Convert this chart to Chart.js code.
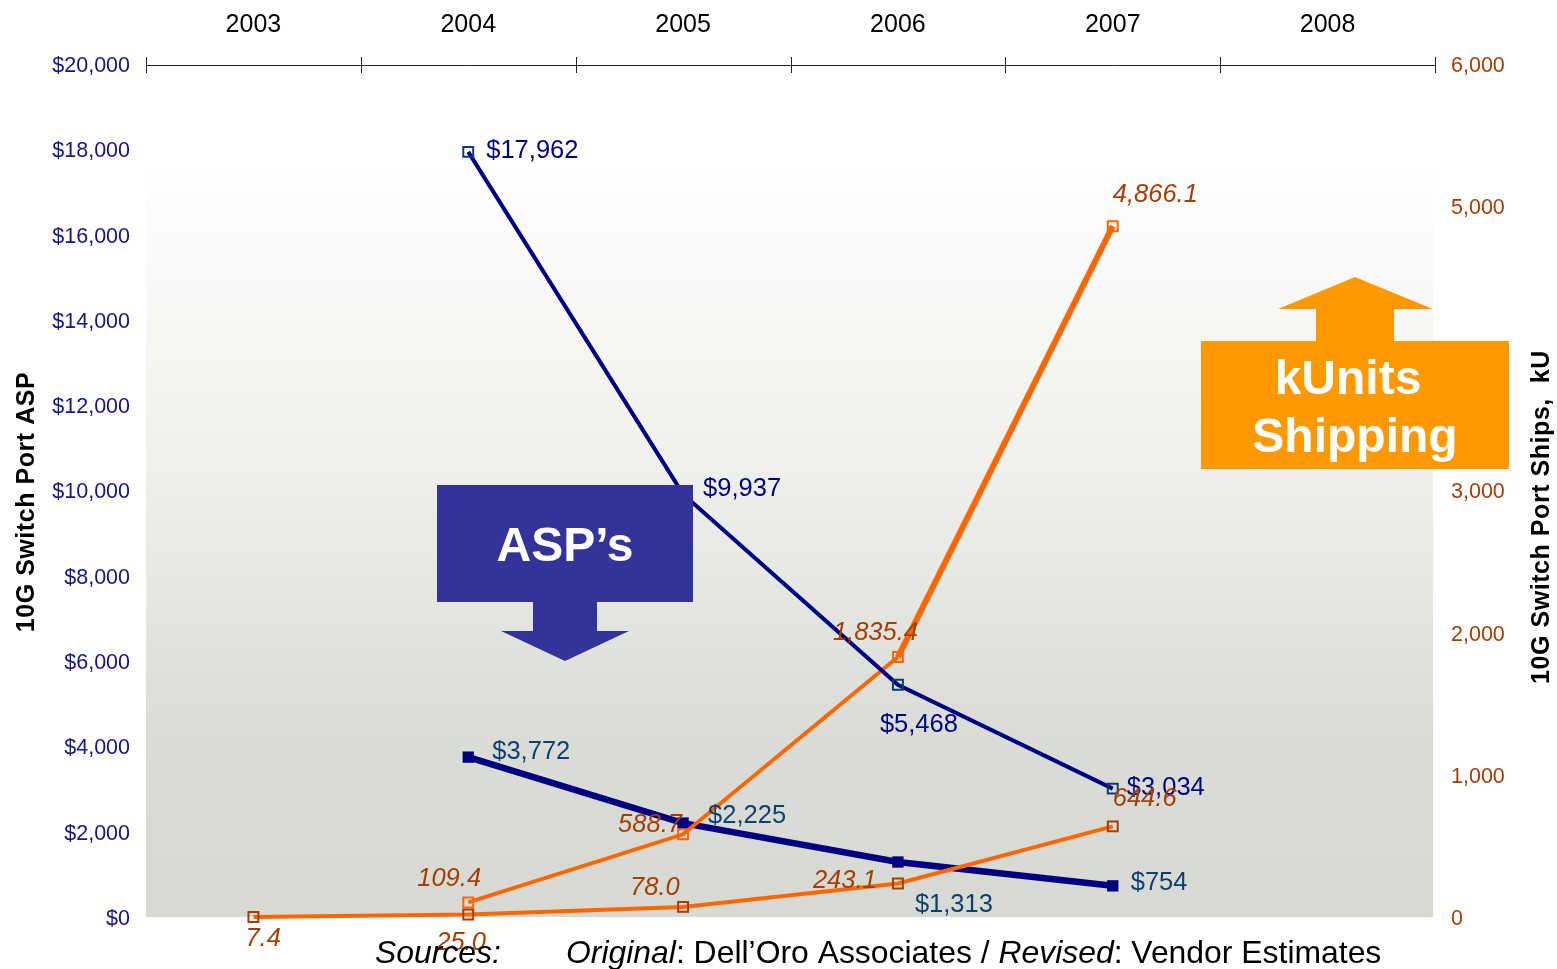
<!DOCTYPE html>
<html>
<head>
<meta charset="utf-8">
<title>10G Switch Port ASP and Ships</title>
<script src="https://cdn.jsdelivr.net/npm/chart.js@4"></script>
<style>
html,body{margin:0;padding:0;background:#fff;overflow:hidden}
#wrap{position:absolute;left:0;top:0;width:1557px;height:969px}
</style>
</head>
<body>
<div id="wrap"><canvas id="mainChart" width="1557" height="969"></canvas></div>
<script>
const years=["2003","2004","2005","2006","2007","2008"]

const aspOriginal=[null,17962,9937,5468,3034,null]
const aspRevised=[null,3772,2225,1313,754,null]
const shipsOriginal=[null,109.4,588.7,1835.4,4866.1,null]
const shipsRevised=[7.4,25.0,78.0,243.1,644.6,null]

const NAVY="#000080"
const TEAL="#0F3F70"
const ORANGE="#FF6600"
const BROWN="#A33F06"
const SANS='"Liberation Sans", Arial, sans-serif'

// label offsets from their point: [dx, dy]
const aspOriginalOffsets=[null,[18,6],[20,2],[-18,47],[14,6],null]
const aspRevisedOffsets=[null,[24,2],[25,0],[17,50],[18,4],null]
const shipsOriginalOffsets=[null,[-51,-16],[-65,-2],[-65,-17],[0,-24],null]
const shipsRevisedOffsets=[[-8,29],[-32,36],[-53,-12],[-85,5],[0,-20],null]

function money(v){
return "$"+v.toLocaleString("en-US")
}

function units(v){
return v.toLocaleString("en-US",{minimumFractionDigits:1,maximumFractionDigits:1})
}

function drawLabels(chart,index,values,offsets,format,color,italic){
const ctx=chart.ctx
const points=chart.getDatasetMeta(index).data
ctx.fillStyle=color
ctx.font=(italic?"italic ":"")+"25.5px "+SANS
ctx.textAlign="left"
ctx.textBaseline="alphabetic"
values.forEach((v,i)=>{
if(v===null) return
ctx.fillText(format(v),points[i].x+offsets[i][0],points[i].y+offsets[i][1])
})
}

function polygon(ctx,color,pts){
ctx.fillStyle=color
ctx.beginPath()
pts.forEach((p,i)=>i?ctx.lineTo(p[0],p[1]):ctx.moveTo(p[0],p[1]))
ctx.closePath()
ctx.fill()
}

function rotatedTitle(ctx,text,x,y){
ctx.save()
ctx.translate(x,y)
ctx.rotate(-Math.PI/2)
ctx.fillStyle="#000"
ctx.font="bold 25px "+SANS
ctx.letterSpacing="0.55px"
ctx.textAlign="center"
ctx.textBaseline="middle"
ctx.fillText(text,0,0)
ctx.restore()
}

const backdrop={
id:"backdrop",
beforeDatasetsDraw(chart){
const ctx=chart.ctx
const a=chart.chartArea
const bottom=a.bottom-1
const g=ctx.createLinearGradient(0,170,0,bottom)
g.addColorStop(0,"#fefefe")
g.addColorStop(0.174,"#f8f8f6")
g.addColorStop(0.4,"#eff0ec")
g.addColorStop(0.75,"#d9ddd5")
g.addColorStop(1,"#d6dad2")
ctx.fillStyle=g
ctx.fillRect(a.left,170,a.right-a.left-2,bottom-170)
// ticks straddle the top axis line
const x=chart.scales.x
const step=x.getPixelForValue(1)-x.getPixelForValue(0)
ctx.strokeStyle="#222"
ctx.lineWidth=1
for(let i=0;i<=years.length;i++){
const px=Math.round(x.getPixelForValue(0)+(i-0.5)*step)+0.5
ctx.beginPath()
ctx.moveTo(px,a.top-8)
ctx.lineTo(px,a.top+8)
ctx.stroke()
}
}
}

const overlay={
id:"overlay",
afterDatasetsDraw(chart){
const ctx=chart.ctx
ctx.save()

drawLabels(chart,0,aspOriginal,aspOriginalOffsets,money,NAVY,false)
drawLabels(chart,1,aspRevised,aspRevisedOffsets,money,TEAL,false)
drawLabels(chart,2,shipsOriginal,shipsOriginalOffsets,units,BROWN,true)
drawLabels(chart,3,shipsRevised,shipsRevisedOffsets,units,BROWN,true)

// callout arrows
polygon(ctx,"#333399",[[437,485],[693,485],[693,602],[597,602],[597,631],[629,631],[565,661],[501,631],[533,631],[533,602],[437,602]])
polygon(ctx,"#FF9900",[[1201,341],[1316,341],[1316,309],[1278,309],[1355,277],[1433,309],[1394,309],[1394,341],[1509,341],[1509,469],[1201,469]])

ctx.fillStyle="#fff"
ctx.font="bold 48px "+SANS
ctx.textAlign="center"
ctx.textBaseline="alphabetic"
ctx.fillText("ASP’s",565,561)
ctx.fillText("kUnits",1348,394)
ctx.fillText("Shipping",1355,452)

rotatedTitle(ctx,"10G Switch Port ASP",27,502)
rotatedTitle(ctx,"10G Switch Port Ships,  kU",1542,517)

// source line
ctx.fillStyle="#000"
ctx.textAlign="left"
ctx.font="italic 31.9px "+SANS
ctx.fillText("Sources:",375,963)
let x=566
ctx.fillText("Original",x,963)
x+=ctx.measureText("Original").width
ctx.font="31.9px "+SANS
ctx.fillText(": Dell’Oro Associates / ",x,963)
x+=ctx.measureText(": Dell’Oro Associates / ").width
ctx.font="italic 31.9px "+SANS
ctx.fillText("Revised",x,963)
x+=ctx.measureText("Revised").width
ctx.font="31.9px "+SANS
ctx.fillText(": Vendor Estimates",x,963)

ctx.restore()
}
}

new Chart(document.getElementById("mainChart"),{
type:"line",
data:{
labels:years,
datasets:[
{
label:"ASP original",
data:aspOriginal,
yAxisID:"y",
order:0,
clip:false,
borderColor:NAVY,
borderWidth:4,
pointStyle:"rect",
pointRadius:7,
pointBorderWidth:2,
pointBorderColor:"#0B3C6E",
pointBackgroundColor:"transparent"
},
{
label:"ASP revised",
data:aspRevised,
yAxisID:"y",
order:3,
clip:false,
borderColor:NAVY,
borderWidth:6.5,
pointStyle:"rect",
pointRadius:8,
pointBorderWidth:0,
pointBackgroundColor:NAVY
},
{
label:"Ships original",
data:shipsOriginal,
yAxisID:"y1",
order:1,
clip:false,
borderColor:ORANGE,
borderWidth:4,
segment:{borderWidth:c=>c.p0DataIndex===3?6:4},
pointStyle:"rect",
pointRadius:7,
pointBorderWidth:2,
pointBorderColor:ORANGE,
pointBackgroundColor:"transparent"
},
{
label:"Ships revised",
data:shipsRevised,
yAxisID:"y1",
order:2,
clip:false,
borderColor:ORANGE,
borderWidth:4,
pointStyle:"rect",
pointRadius:7,
pointBorderWidth:2,
pointBorderColor:BROWN,
pointBackgroundColor:"transparent"
}
]
},
options:{
responsive:false,
animation:false,
layout:{padding:{left:0,right:0,top:0,bottom:51}},
elements:{line:{tension:0}},
plugins:{legend:{display:false},tooltip:{enabled:false}},
scales:{
x:{
position:"top",
offset:true,
afterFit(s){s.height=65},
grid:{display:false},
border:{display:true,color:"#222",width:1},
ticks:{color:"#000",padding:17,font:{family:SANS,size:25},maxRotation:0}
},
y:{
position:"left",
min:0,
max:20000,
afterFit(s){s.width=146},
grid:{display:false},
border:{display:false},
ticks:{stepSize:2000,padding:8,labelOffset:1,color:"#14148C",font:{family:SANS,size:21.5},callback:v=>money(v)}
},
y1:{
position:"right",
min:0,
max:6000,
afterFit(s){s.width=122},
grid:{display:false},
border:{display:false},
ticks:{stepSize:1000,padding:8,labelOffset:1,color:BROWN,font:{family:SANS,size:21.5},callback:v=>v.toLocaleString("en-US")}
}
}
},
plugins:[backdrop,overlay]
})
</script>
</body>
</html>
